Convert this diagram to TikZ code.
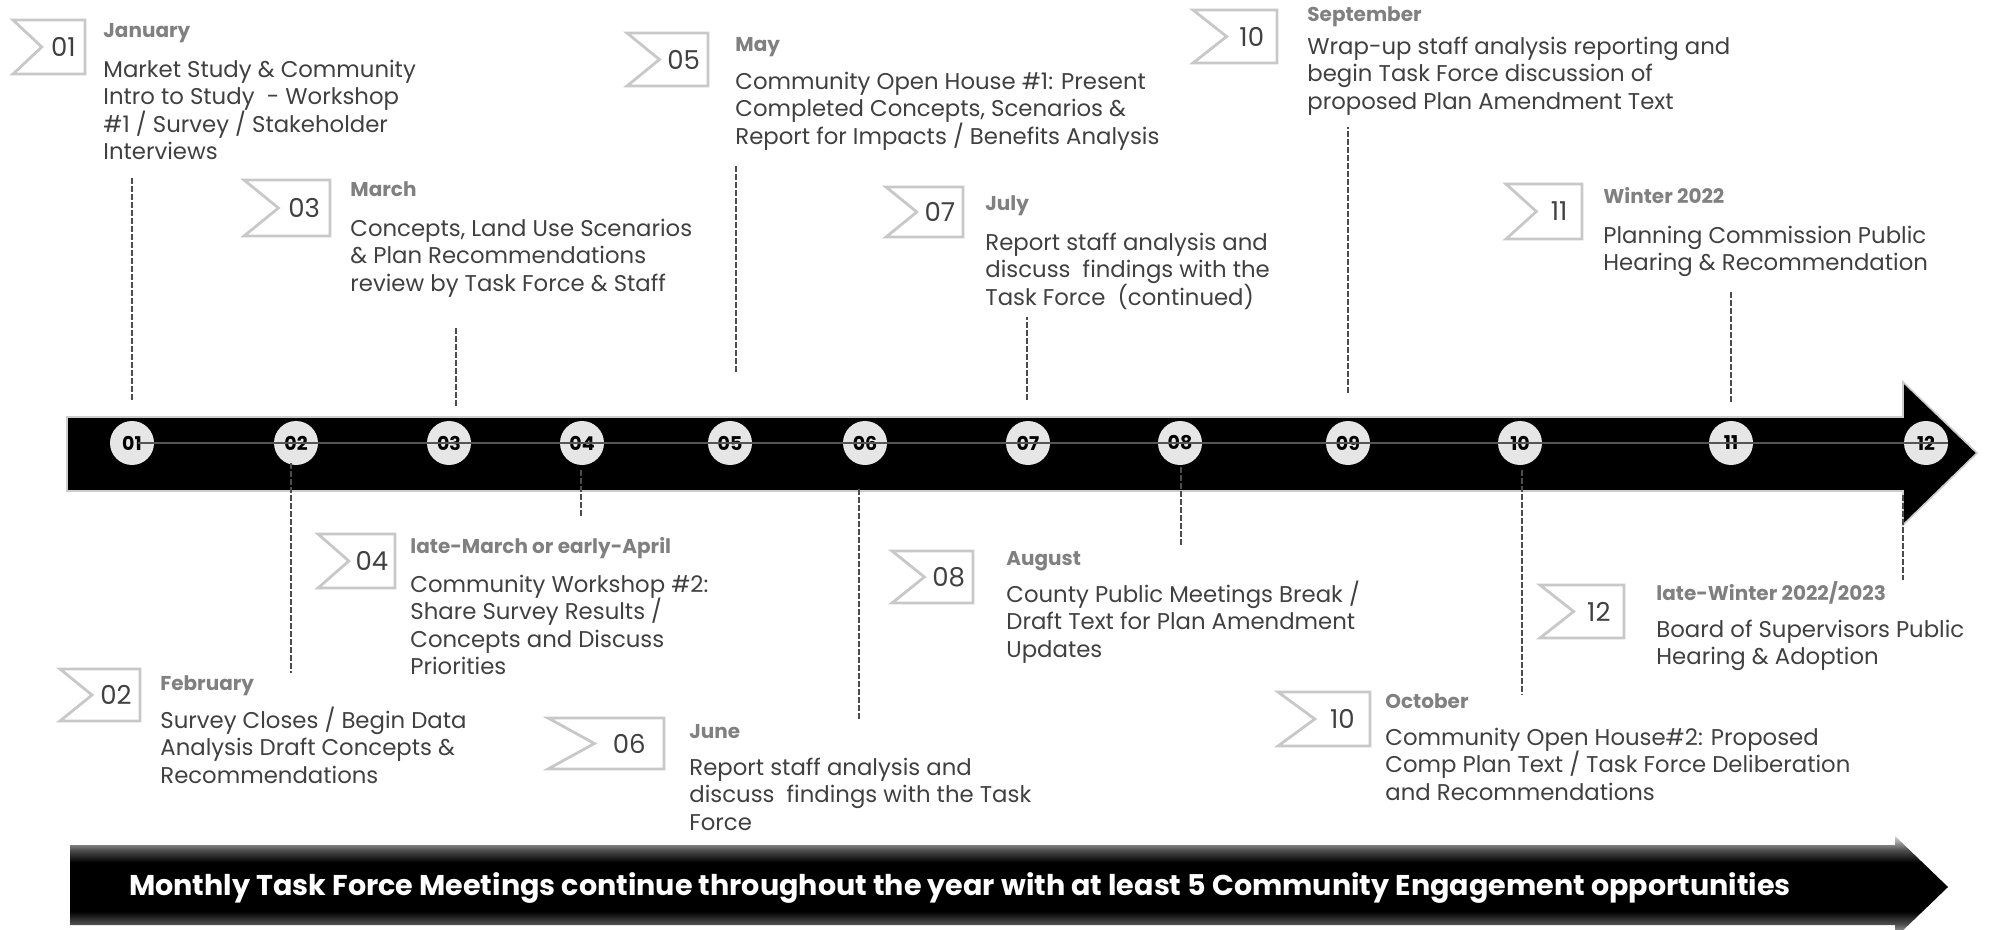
\documentclass[tikz,border=0pt]{standalone}
\usepackage{fontspec}
\setmainfont{Poppins}
\usetikzlibrary{positioning}

\definecolor{flaggray}{HTML}{C8C8C8}
\definecolor{textgray}{HTML}{404040}
\definecolor{monthgray}{HTML}{808080}
\definecolor{dotgray}{HTML}{E6E6E6}
\definecolor{spinegray}{HTML}{555555}

\pgfdeclareverticalshading{bandfade}{100bp}{color(0bp)=(white); color(25bp)=(black!15); color(32bp)=(black!70); color(38bp)=(black); color(62bp)=(black); color(68bp)=(black!70); color(75bp)=(black!15); color(100bp)=(white)}

\tikzset{
  month/.style={anchor=west, inner sep=0pt, text height=7pt, text depth=2pt, text=monthgray, font=\bfseries\fontsize{10}{11}\selectfont},
  desc/.style={inner sep=0pt, align=left, text=textgray, font=\fontsize{11.4}{13.8}\selectfont},
  dot/.style={circle, fill=dotgray, minimum size=22pt, inner sep=0pt, font=\bfseries\fontsize{9.5}{10}\selectfont},
  flagline/.style={draw=flaggray, line width=1.4pt, fill=white},
  flagnum/.style={inner sep=0pt, text=textgray, font=\fontsize{13}{13}\selectfont},
  leader/.style={draw=black!70, line width=0.6pt, dash pattern=on 3pt off 1pt},
  bandtext/.style={fill=black, text=white, inner sep=0pt, minimum width=850pt, minimum height=18.5pt, font=\bfseries\fontsize{14.3}{15}\selectfont},
}

% flag: name, left, top, width, height, number
\newcommand{\flag}[6]{%
  \draw[flagline] (#2,#3) -- ++(#4,0) -- ++(0,#5) -- ++(-#4,0) -- ++(0.4*#4,-0.5*#5) -- cycle;
  \node[flagnum] (#1) at (#2+0.7*#4,#3+0.5*#5) {#6};}

\begin{document}
\begin{tikzpicture}[x=0.5pt, y=-0.5pt, node distance=8.5pt]
  \useasboundingbox (0,0) rectangle (1990,930);

  % main timeline arrow
  \draw[fill=black, draw=black!20, line width=0.8pt] (67,417) -- (1903,417) -- (1903,382) -- (1977,453) -- (1903,525) -- (1903,491) -- (67,491) -- cycle;

  \node[dot] (c01) at (132,443) {01};
  \node[dot] (c02) at (296,443) {02};
  \node[dot] (c03) at (449,443) {03};
  \node[dot] (c04) at (582,443) {04};
  \node[dot] (c05) at (730,443) {05};
  \node[dot] (c06) at (865,443) {06};
  \node[dot] (c07) at (1028,443) {07};
  \node[dot] (c08) at (1180,443) {08};
  \node[dot] (c09) at (1348,443) {09};
  \node[dot] (c10) at (1520,443) {10};
  \node[dot] (c11) at (1731,443) {11};
  \node[dot] (c12) at (1926,443) {12};
  \draw[spinegray, line width=1.1pt] ([xshift=3pt]c01.center) -- (c12.east);

  % flags
  \flag{f01}{13}{20}{72}{54}{01}
  \flag{f03}{244}{180}{86}{56}{03}
  \flag{f05}{627}{33}{81}{53}{05}
  \flag{f07}{886}{187}{77}{50}{07}
  \flag{f09}{1193}{10}{84}{53}{10}
  \flag{f11}{1506}{184}{76}{55}{11}
  \flag{f02}{60}{669}{80}{52}{02}
  \flag{f04}{318}{534}{77}{54}{04}
  \flag{f06}{548}{718}{116}{51}{06}
  \flag{f08}{892}{551}{81}{52}{08}
  \flag{f12}{1540}{585}{84}{53}{12}
  \flag{f10}{1278}{692}{92}{54}{10}

  % months above
  \node[month] (jan) at (103,33) {January};
  \node[desc, below=of jan.south west, anchor=north west] (jantext) {Market Study \& Community\\Intro to Study~ - Workshop\\\#1 / Survey / Stakeholder\\Interviews};
  \node[month] (mar) at (350,192) {March};
  \node[desc, below=of mar.south west, anchor=north west] (martext) {Concepts, Land Use Scenarios\\\& Plan Recommendations\\review by Task Force \& Staff};
  \node[month] (may) at (735,47) {May};
  \node[desc, below=7.5pt of may.south west, anchor=north west] (maytext) {Community Open House \#1: Present\\Completed Concepts, Scenarios \&\\Report for Impacts / Benefits Analysis};
  \node[month] (jul) at (985,206) {July};
  \node[desc, below=of jul.south west, anchor=north west] (jultext) {Report staff analysis and\\discuss~ findings with the\\Task Force~ (continued)};
  \node[month] (sep) at (1307,17) {September};
  \node[desc, below=5pt of sep.south west, anchor=north west] (septext) {Wrap-up staff analysis reporting and\\begin Task Force discussion of\\proposed Plan Amendment Text};
  \node[month] (win) at (1603,199) {Winter 2022};
  \node[desc, below=of win.south west, anchor=north west] (wintext) {Planning Commission Public\\Hearing \& Recommendation};

  % months below
  \node[month] (feb) at (160,685) {February};
  \node[desc, below=6pt of feb.south west, anchor=north west] (febtext) {Survey Closes / Begin Data\\Analysis Draft Concepts \&\\Recommendations};
  \node[month] (apr) at (410,548) {late-March or early-April};
  \node[desc, below=of apr.south west, anchor=north west] (aprtext) {Community Workshop \#2:\\Share Survey Results /\\Concepts and Discuss\\Priorities};
  \node[month] (jun) at (689,733) {June};
  \node[desc, below=7.5pt of jun.south west, anchor=north west] (juntext) {Report staff analysis and\\discuss~ findings with the Task\\Force};
  \node[month] (aug) at (1006,560) {August};
  \node[desc, below=5.5pt of aug.south west, anchor=north west] (augtext) {County Public Meetings Break /\\Draft Text for Plan Amendment\\Updates};
  \node[month] (lwin) at (1656,595) {late-Winter 2022/2023};
  \node[desc, below=7.5pt of lwin.south west, anchor=north west] (lwintext) {Board of Supervisors Public\\Hearing \& Adoption};
  \node[month] (oct) at (1385,703) {October};
  \node[desc, below=7.5pt of oct.south west, anchor=north west] (octtext) {Community Open House\#2: Proposed\\Comp Plan Text / Task Force Deliberation\\and Recommendations};

  % leader lines
  \coordinate (m01) at (132,178);
  \coordinate (m03) at (456,327);
  \coordinate (m05) at (736,165);
  \coordinate (m07) at (1027,317);
  \coordinate (m09) at (1348,127);
  \coordinate (m11) at (1731,292);
  \coordinate (m02) at (291,673);
  \coordinate (m04) at (581,518);
  \coordinate (m06) at (859,721);
  \coordinate (m08) at (1181,546);
  \coordinate (m10) at (1522,695);
  \coordinate (m12) at (1903,580);
  \draw[leader, shorten <=21.5pt] (m01 |- c01) -- (m01);
  \draw[leader, shorten <=18.5pt] (m03 |- c03) -- (m03);
  \draw[leader, shorten <=35.5pt] (m05 |- c05) -- (m05);
  \draw[leader, shorten <=21.5pt] (m07 |- c07) -- (m07);
  \draw[leader, shorten <=25pt] (m09 |- c09) -- (m09);
  \draw[leader, shorten <=20.5pt] (m11 |- c11) -- (m11);
  \draw[leader, shorten <=10pt] (m02 |- c02) -- (m02);
  \draw[leader, shorten <=13.5pt] (m04 |- c04) -- (m04);
  \draw[leader, shorten <=23pt] (m06 |- c06) -- (m06);
  \draw[leader, shorten <=12pt] (m08 |- c08) -- (m08);
  \draw[leader, shorten <=13.5pt] (m10 |- c10) -- (m10);
  \draw[leader, shorten <=26pt] (m12 |- c12) -- (m12);

  % bottom banner
  \shade[shading=bandfade] (70,845) -- (1895,845) -- (1895,836) -- (1948,887) -- (1895,938) -- (1895,925) -- (70,925) -- cycle;
  \node[bandtext] (band) at (960,888) {Monthly Task Force Meetings continue throughout the year with at least 5 Community Engagement opportunities};
\end{tikzpicture}
\end{document}
